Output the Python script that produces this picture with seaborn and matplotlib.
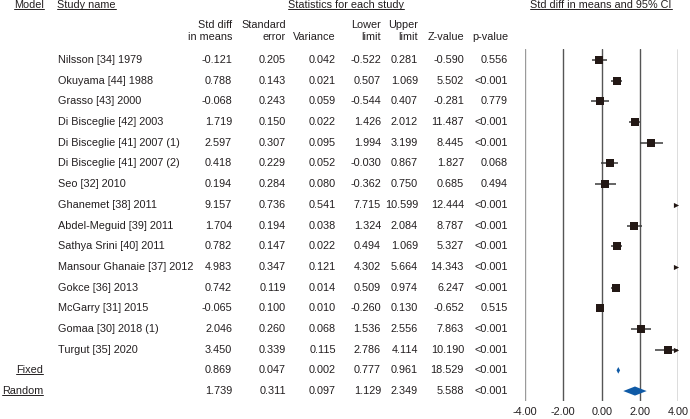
import numpy as np
import pandas as pd
import matplotlib
matplotlib.use('Agg')
import matplotlib.pyplot as plt
import seaborn as sns
from matplotlib.transforms import blended_transform_factory
from matplotlib.lines import Line2D

# datos de la tabla
studies = ['Nilsson [34] 1979', 'Okuyama [44] 1988', 'Grasso [43] 2000',
           'Di Bisceglie [42] 2003', 'Di Bisceglie [41] 2007 (1)', 'Di Bisceglie [41] 2007 (2)',
           'Seo [32] 2010', 'Ghanemet [38] 2011', 'Abdel-Meguid [39] 2011',
           'Sathya Srini [40] 2011', 'Mansour Ghanaie [37] 2012', 'Gokce [36] 2013',
           'McGarry [31] 2015', 'Gomaa [30] 2018 (1)', 'Turgut [35] 2020']
std_diff = [-0.121, 0.788, -0.068, 1.719, 2.597, 0.418, 0.194, 9.157, 1.704, 0.782, 4.983, 0.742, -0.065, 2.046, 3.450]
std_err = [0.205, 0.143, 0.243, 0.150, 0.307, 0.229, 0.284, 0.736, 0.194, 0.147, 0.347, 0.119, 0.100, 0.260, 0.339]
variance = [0.042, 0.021, 0.059, 0.022, 0.095, 0.052, 0.080, 0.541, 0.038, 0.022, 0.121, 0.014, 0.010, 0.068, 0.115]
lower = [-0.522, 0.507, -0.544, 1.426, 1.994, -0.030, -0.362, 7.715, 1.324, 0.494, 4.302, 0.509, -0.260, 1.536, 2.786]
upper = [0.281, 1.069, 0.407, 2.012, 3.199, 0.867, 0.750, 10.599, 2.084, 1.069, 5.664, 0.974, 0.130, 2.556, 4.114]
z_value = [-0.590, 5.502, -0.281, 11.487, 8.445, 1.827, 0.685, 12.444, 8.787, 5.327, 14.343, 6.247, -0.652, 7.863, 10.190]
p_value = ['0.556', '<0.001', '0.779', '<0.001', '<0.001', '0.068', '0.494', '<0.001', '<0.001',
           '<0.001', '<0.001', '<0.001', '0.515', '<0.001', '<0.001']

models = ['Fixed', 'Random']
model_diff = [0.869, 1.739]
model_se = [0.047, 0.311]
model_var = [0.002, 0.097]
model_lower = [0.777, 1.129]
model_upper = [0.961, 2.349]
model_z = [18.529, 5.588]
model_p = ['<0.001', '<0.001']

x_ticks = [-4, -2, 0, 2, 4]

W, H = 690, 419
txt_color = '#231f20'
sq_color = '#231815'
blue = '#0f5aa6'

sns.set_theme(style='white')
plt.rcParams['font.family'] = ['Liberation Sans', 'DejaVu Sans']

fig = plt.figure(figsize=(W / 100, H / 100), dpi=100)
fig.patch.set_facecolor('white')

# panel del forest plot (pixeles 525..678 en x, 49..401 en y)
ax = fig.add_axes([525 / W, (H - 401) / H, 153.3 / W, 352 / H])
row_gap = 20.69
ax.set_xlim(-4, 4)
ax.set_ylim((401 - 60) / row_gap, (49 - 60) / row_gap)

df = pd.DataFrame({'study': studies, 'd': std_diff, 'lo': lower, 'hi': upper})
df['row'] = np.arange(len(df))

for i, xv in enumerate(x_ticks):
    ax.axvline(xv, color='#9a9a9a' if i == 0 else '#555555', lw=1.0, zorder=0)

ax.hlines(df['row'], df['lo'], df['hi'], color='#3a3a3a', lw=1.1, zorder=2)
sns.scatterplot(data=df, x='d', y='row', marker='s', s=36, color=sq_color,
                edgecolor=sq_color, linewidth=0, ax=ax, zorder=3, legend=False)

# flechas para los intervalos fuera de rango
out = df[df['hi'] > 4]
sns.scatterplot(x=[3.88] * len(out), y=out['row'].values, marker='>', s=14,
                color=sq_color, edgecolor=sq_color, linewidth=0, ax=ax, zorder=4, legend=False)

# rombos de los modelos
half_h = [0.16, 0.22]
for k in range(len(models)):
    r = len(studies) + k
    hh = half_h[k]
    ax.fill([model_lower[k], model_diff[k], model_upper[k], model_diff[k]],
            [r, r - hh, r, r + hh], color=blue, lw=0, zorder=3)

ax.set_xticks(x_ticks)
ax.set_xticklabels(['%.2f' % v for v in x_ticks])
ax.set_yticks([])
ax.tick_params(axis='x', length=0, pad=4.5, labelsize=7.8, labelcolor=txt_color)
for s in ax.spines.values():
    s.set_visible(False)
ax.set_xlabel('')
ax.set_ylabel('')
ax.patch.set_alpha(0)

# texto de la tabla: x en pixeles de figura, y en filas
tr = blended_transform_factory(fig.transFigure, ax.transData)
fs = 7.8

def put(xpx, row, s, ha='right'):
    return ax.text(xpx / W, row, s, transform=tr, ha=ha, va='center',
                   fontsize=fs, color=txt_color, clip_on=False)

col_x = [232, 286, 336, 381, 418, 464, 508]
for i in range(len(studies)):
    put(58, i, studies[i], ha='left')
    vals = ['%.3f' % std_diff[i], '%.3f' % std_err[i], '%.3f' % variance[i],
            '%.3f' % lower[i], '%.3f' % upper[i], '%.3f' % z_value[i], p_value[i]]
    for cx, v in zip(col_x, vals):
        put(cx, i, v)

underlined = []
for k in range(len(models)):
    r = len(studies) + k
    underlined.append(put(43, r, models[k]))
    vals = ['%.3f' % model_diff[k], '%.3f' % model_se[k], '%.3f' % model_var[k],
            '%.3f' % model_lower[k], '%.3f' % model_upper[k], '%.3f' % model_z[k], model_p[k]]
    for cx, v in zip(col_x, vals):
        put(cx, r, v)

# encabezados
def head(xpx, ypx, s, ha='left'):
    return fig.text(xpx / W, 1 - ypx / H, s, ha=ha, va='center', fontsize=fs, color=txt_color)

underlined.append(head(44, 5, 'Model', ha='right'))
underlined.append(head(57, 5, 'Study name'))
underlined.append(head(346, 5, 'Statistics for each study', ha='center'))
underlined.append(head(601, 5, 'Std diff in means and 95% CI', ha='center'))

head(232, 25, 'Std diff', ha='right')
head(232, 37, 'in means', ha='right')
head(286, 25, 'Standard', ha='right')
head(286, 37, 'error', ha='right')
head(336, 37, 'Variance', ha='right')
head(381, 25, 'Lower', ha='right')
head(381, 37, 'limit', ha='right')
head(418, 25, 'Upper', ha='right')
head(418, 37, 'limit', ha='right')
head(464, 37, 'Z-value', ha='right')
head(508, 37, 'p-value', ha='right')

# subrayado
fig.canvas.draw()
rend = fig.canvas.get_renderer()
for t in underlined:
    bb = t.get_window_extent(renderer=rend)
    y = (bb.y0 + 1) / H
    fig.add_artist(Line2D([bb.x0 / W, bb.x1 / W], [y, y], transform=fig.transFigure,
                          color=txt_color, lw=0.7))

fig.savefig('out.png', dpi=100)
